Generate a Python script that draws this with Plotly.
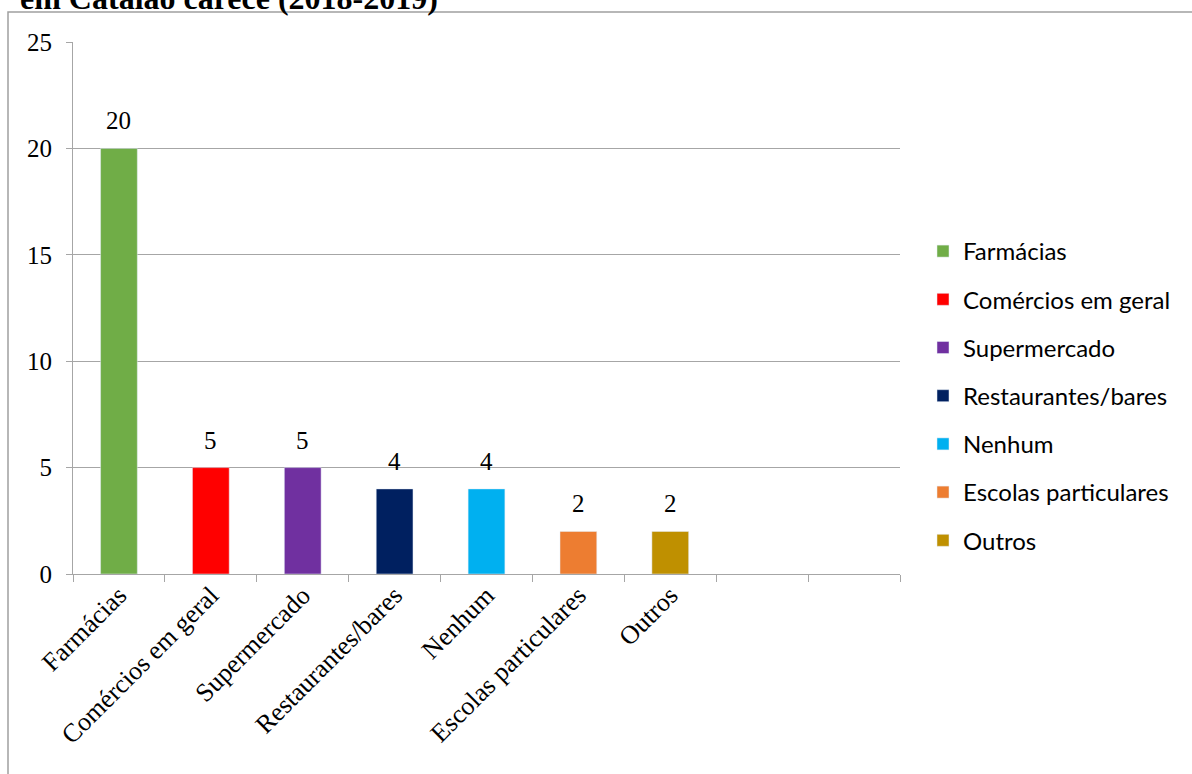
import plotly.graph_objects as go

# Categories and counts
categories = ["Farmácias", "Comércios em geral", "Supermercado", "Restaurantes/bares",
              "Nenhum", "Escolas particulares", "Outros"]
values = [20, 5, 5, 4, 4, 2, 2]
colors = ["#70AD47", "#FF0000", "#7030A0", "#002060", "#00B0F0", "#ED7D31", "#BF9000"]
n_slots = 9  # the axis leaves two empty slots on the right
y_ticks = [0, 5, 10, 15, 20, 25]

W, H = 1192, 774
L, R, T, B = 73, 292, 42, 200
pw, ph = W - L - R, H - T - B

serif = "Liberation Serif, Times New Roman, serif"
sans = "Lato, Calibri, sans-serif"

fig = go.Figure()
for i, (cat, val, col) in enumerate(zip(categories, values, colors)):
    fig.add_trace(go.Bar(
        x=[i], y=[val], name=cat, marker_color=col, width=0.40,
        legendgroup=cat, showlegend=True, hoverinfo="x+y",
    ))
    fig.add_annotation(
        x=i, y=val, text=str(val), showarrow=False, yanchor="bottom", yshift=12,
        font=dict(family=serif, size=25, color="#000"),
    )

# Invisible trace on a second x axis that carries the boundary tick marks
fig.add_trace(go.Scatter(x=[-0.5, n_slots - 0.5], y=[0, 0], xaxis="x2", mode="none",
                         showlegend=False, hoverinfo="skip"))

grid = "#a6a6a6"
fig.update_layout(
    width=W, height=H,
    margin=dict(l=L, r=R, t=T, b=B),
    plot_bgcolor="white", paper_bgcolor="white",
    barmode="overlay",
    xaxis=dict(
        range=[-0.5, n_slots - 0.5], tickmode="array",
        tickvals=list(range(len(categories))), ticktext=categories,
        tickangle=-45, ticks="", showgrid=False, zeroline=False,
        showline=False, tickfont=dict(family=serif, size=26, color="#000"),
    ),
    xaxis2=dict(
        overlaying="x", range=[-0.5, n_slots - 0.5], side="bottom",
        tickmode="array", tickvals=[k - 0.5 for k in range(n_slots + 1)],
        showticklabels=False, ticks="outside", ticklen=7, tickcolor=grid,
        showgrid=False, zeroline=False, showline=True, linecolor=grid,
    ),
    yaxis=dict(
        range=[0, 25], tickvals=y_ticks, ticks="outside", ticklen=6,
        tickcolor=grid, showgrid=True, gridcolor=grid, gridwidth=1,
        showline=True, linecolor=grid, zeroline=False,
        tickfont=dict(family=serif, size=25, color="#000"), ticklabelstandoff=9,
    ),
    legend=dict(
        x=(923 - L) / pw, xanchor="left", y=(574 - 396) / ph,
        yanchor="middle", font=dict(family=sans, size=24, color="#000"),
        tracegroupgap=14, bgcolor="rgba(0,0,0,0)",
    ),
    showlegend=True,
)

# Chart frame
fig.add_shape(type="rect", xref="paper", yref="paper",
              x0=(8 - L) / pw, x1=(W + 20 - L) / pw,
              y0=-(H + 20 - T - ph) / ph, y1=1 + (T - 12) / ph,
              line=dict(color="#a0a0a0", width=1.5), fillcolor="rgba(0,0,0,0)", layer="below")

# Title line
fig.add_annotation(
    xref="paper", yref="paper", x=(18 - L) / pw, y=1 + (T + 2) / ph,
    xanchor="left", yanchor="middle", showarrow=False,
    text="<b>em Catalão carece (2018-2019)</b>",
    font=dict(family=serif, size=32, color="#000"),
)

fig.write_html("out.html")
